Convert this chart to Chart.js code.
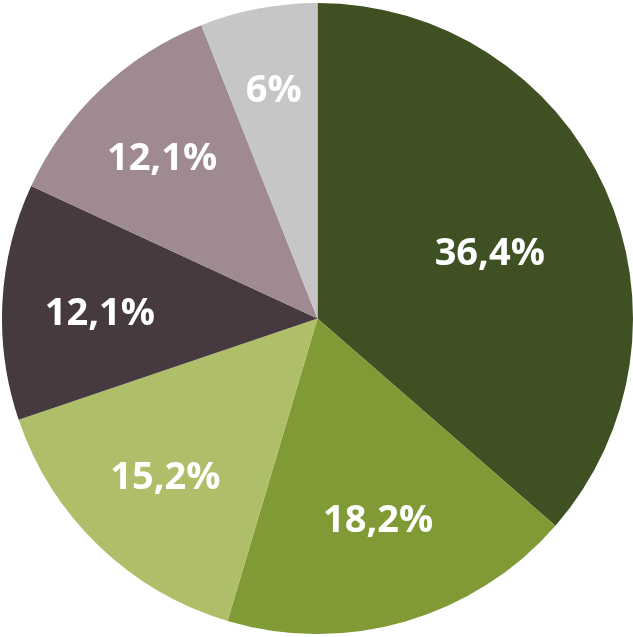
<!DOCTYPE html>
<html>
<head>
<meta charset="utf-8">
<script src="https://cdn.jsdelivr.net/npm/chart.js@4"></script>
<style>
  html, body { margin: 0; padding: 0; background: #fff; }
  #wrap { width: 633px; height: 637px; }
</style>
</head>
<body>
<div id="wrap"><canvas id="chart"></canvas></div>
<script>
const categories = ['A', 'B', 'C', 'D', 'E', 'F'];
const values = [36.4, 18.2, 15.2, 12.1, 12.1, 6];
const valueLabels = ['36,4%', '18,2%', '15,2%', '12,1%', '12,1%', '6%'];
const colors = ['#3f5122', '#809b35', '#afbf69', '#463a40', '#9e8a90', '#c6c6c6'];

// draw the percent labels inside each slice
const sliceLabels = {
  id: 'sliceLabels',
  afterDatasetsDraw(chart, args, opts) {
    const ctx = chart.ctx;
    const meta = chart.getDatasetMeta(0);
    ctx.save();
    ctx.fillStyle = '#fff';
    ctx.font = '700 38px "Open Sans", sans-serif';
    ctx.textAlign = 'center';
    ctx.textBaseline = 'middle';
    meta.data.forEach((arc, i) => {
      const mid = (arc.startAngle + arc.endAngle) / 2 + opts.shift[i];
      const r = arc.outerRadius * opts.radius[i];
      ctx.fillText(valueLabels[i], arc.x + Math.cos(mid) * r, arc.y + Math.sin(mid) * r + 2);
    });
    ctx.restore();
  }
};

new Chart(document.getElementById('chart'), {
  type: 'pie',
  data: {
    labels: categories,
    datasets: [{
      data: values,
      backgroundColor: colors,
      borderWidth: 0
    }]
  },
  options: {
    responsive: true,
    maintainAspectRatio: false,
    animation: false,
    layout: { padding: { left: 2, top: 1, bottom: 1 } },
    plugins: {
      legend: { display: false },
      tooltip: { enabled: false },
      sliceLabels: {
        radius: [0.585, 0.665, 0.695, 0.69, 0.71, 0.74],
        shift: [0.06, -0.01, 0, -0.025, -0.01, 0]
      }
    }
  },
  plugins: [sliceLabels]
});
</script>
</body>
</html>
